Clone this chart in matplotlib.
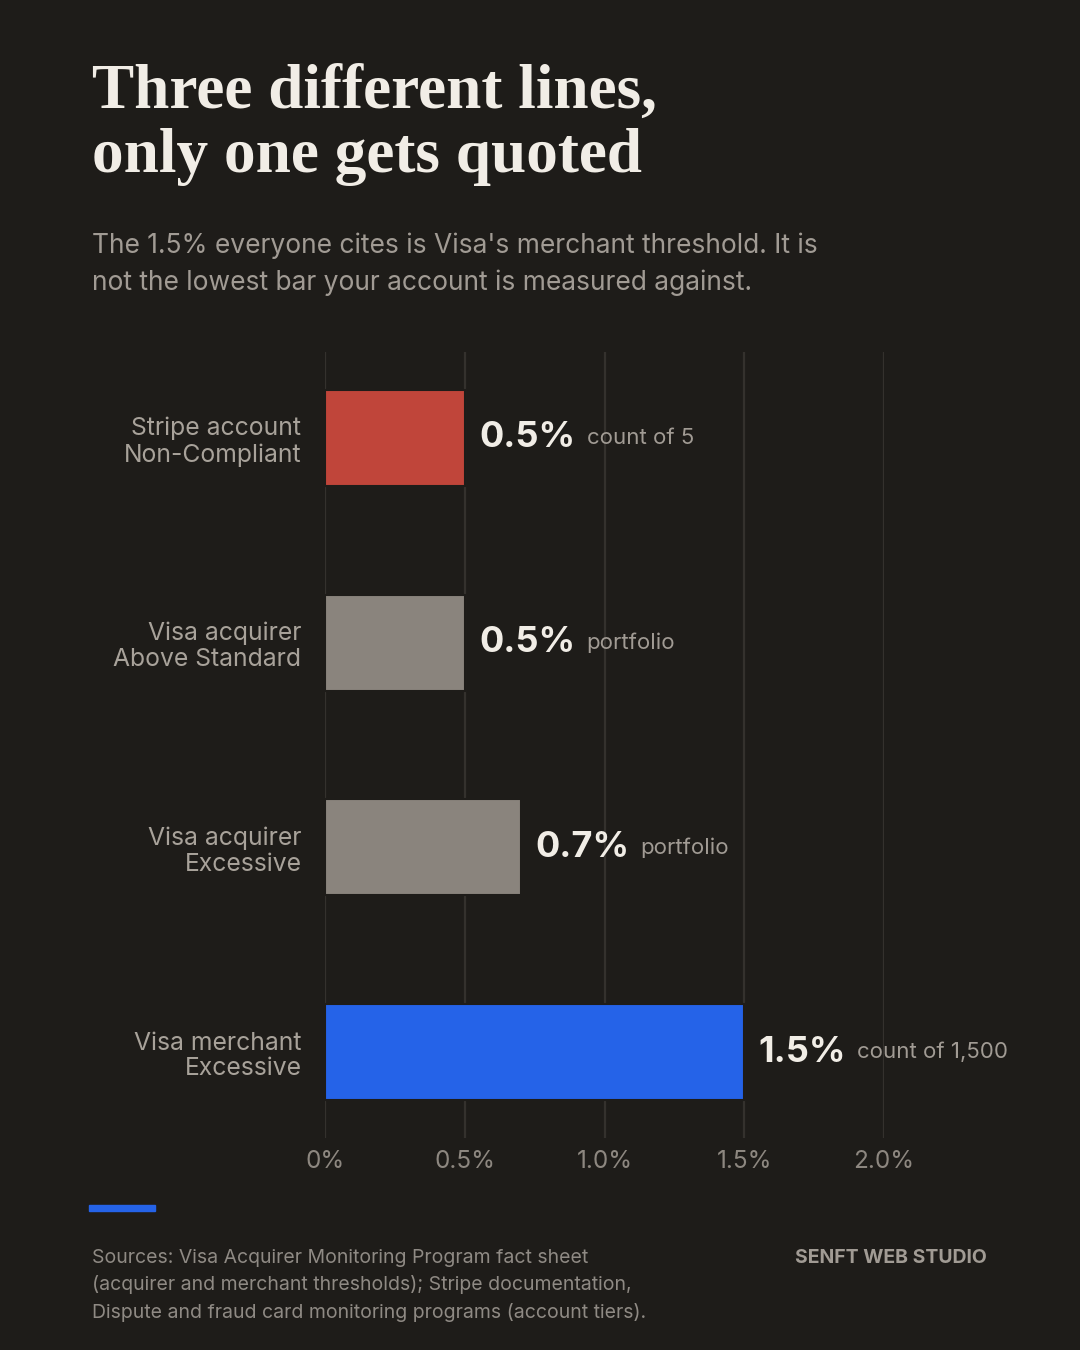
import matplotlib
matplotlib.use("Agg")
import matplotlib.pyplot as plt
from matplotlib.patches import Rectangle

categories = ["Stripe account\nNon-Compliant", "Visa acquirer\nAbove Standard",
              "Visa acquirer\nExcessive", "Visa merchant\nExcessive"]
values = [0.5, 0.5, 0.7, 1.5]
value_labels = ["0.5%", "0.5%", "0.7%", "1.5%"]
notes = ["count of 5", "portfolio", "portfolio", "count of 1,500"]
bar_colors = ["#c0453a", "#8a847d", "#8a847d", "#2563e8"]
xticks = [0, 0.5, 1.0, 1.5, 2.0]
xtick_labels = ["0%", "0.5%", "1.0%", "1.5%", "2.0%"]

BG = "#1e1c19"
SANS = ["Inter", "DejaVu Sans"]

fig = plt.figure(figsize=(10.8, 13.5), dpi=100, facecolor=BG)

# Title & subtitle (va=baseline anchors the last line)
fig.text(92/1080, 1 - 172/1350, "Three different lines,\nonly one gets quoted",
         family=["Liberation Serif", "DejaVu Serif"], weight="bold", fontsize=45.5,
         color="#f1ede6", ha="left", va="baseline", linespacing=1.15)
fig.text(92/1080, 1 - 290/1350,
         "The 1.5% everyone cites is Visa's merchant threshold. It is\nnot the lowest bar your account is measured against.",
         family=SANS, fontsize=19, color="#a19b94", ha="left", va="baseline", linespacing=1.5)

ax = fig.add_axes([325/1080, 212/1350, 559/1080, 786/1350])
ax.set_facecolor(BG)
ax.set_xlim(0, 2.0)
ax.set_ylim(3.42, -0.42)
for s in ax.spines.values():
    s.set_visible(False)

for xt in xticks:
    ax.axvline(xt, color="#34312d", lw=1.6, zorder=0)

ypos = list(range(len(categories)))
ax.barh(ypos, values, height=0.47, color=bar_colors, edgecolor=BG, linewidth=1.5, zorder=2)

ax.set_yticks(ypos)
ax.set_yticklabels(categories, family=SANS, fontsize=17.8, color="#a8a29a",
                   linespacing=1.16)
ax.tick_params(axis="y", length=0, pad=17)
ax.set_xticks(xticks)
ax.set_xticklabels(xtick_labels, family=SANS, fontsize=17.5, color="#8d8780")
ax.tick_params(axis="x", length=0, pad=9)

for y, v, lab, note in zip(ypos, values, value_labels, notes):
    t = ax.annotate(lab, xy=(v, y), xytext=(10.5, 0), textcoords="offset points",
                    family=SANS, weight="bold", fontsize=26, color="#f1ede6",
                    ha="left", va="center", annotation_clip=False)
    ax.annotate(note, xy=(1, 0.5), xycoords=t, xytext=(8, 0),
                textcoords="offset points", family=SANS, fontsize=16,
                color="#a19b94", ha="left", va="center")

# Footer accent bar
fig.add_artist(Rectangle((89/1080, 1 - 1211/1350), 66/1080, 6/1350,
                         transform=fig.transFigure, color="#2563e8"))
fig.text(92/1080, 1 - 1318/1350,
         "Sources: Visa Acquirer Monitoring Program fact sheet\n(acquirer and merchant thresholds); Stripe documentation,\nDispute and fraud card monitoring programs (account tiers).",
         family=SANS, fontsize=14.0, color="#8f8a84", ha="left", va="baseline",
         linespacing=1.58)
fig.text(987/1080, 1 - 1263/1350, "SENFT WEB STUDIO", family=SANS, weight="bold",
         fontsize=14, color="#a19b94", ha="right", va="baseline")

fig.savefig("out.png", dpi=100, facecolor=BG)
